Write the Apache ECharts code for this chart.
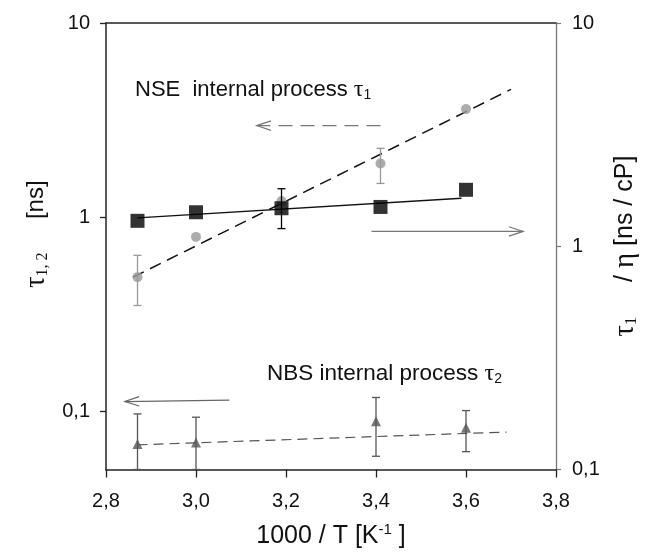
<!DOCTYPE html>
<html>
<head>
<meta charset="utf-8">
<script src="https://cdn.jsdelivr.net/npm/echarts@6/dist/echarts.min.js"></script>
<style>html,body{margin:0;padding:0;background:#fff}#c{width:648px;height:554px}</style>
</head>
<body>
<div id="c"></div>
<script>
// ---- data ----
const xTicks = [2.8, 3.0, 3.2, 3.4, 3.6, 3.8];
const yLeftTicks = [0.1, 1, 10];
const yRightTicks = [0.1, 1, 10];

// NSE tau1 (grey circles, left axis)
const tau1X = [2.87, 3.0, 3.19, 3.41, 3.6];
const tau1Y = [0.49, 0.79, 1.21, 1.89, 3.6];
const tau1ErrX = [2.87, 3.41];
const tau1ErrLo = [0.35, 1.49];
const tau1ErrHi = [0.635, 2.26];
const tau1FitX = [2.86, 3.7];
const tau1FitY = [0.49, 4.55];

// tau1/eta (black squares, right axis)
const etaX = [2.87, 3.0, 3.19, 3.41, 3.6];
const etaY = [1.30, 1.42, 1.48, 1.50, 1.79];
const etaErrX = [3.19];
const etaErrLo = [1.20];
const etaErrHi = [1.81];
const etaFitX = [2.87, 3.59];
const etaFitY = [1.34, 1.64];

// NBS tau2 (dark grey triangles, left axis)
const tau2X = [2.87, 3.0, 3.4, 3.6];
const tau2Y = [0.0676, 0.0689, 0.0887, 0.082];
const tau2ErrLo = [0.05, 0.05, 0.0585, 0.0618];
const tau2ErrHi = [0.0967, 0.093, 0.1175, 0.1006];
const tau2FitX = [2.87, 3.69];
const tau2FitY = [0.067, 0.078];

// arrows [xTail, yTail, xHead, yHead]
const arrowNSE = [3.41, 2.96, 3.135, 2.96];     // left axis, dashed
const arrowEta = [3.39, 1.165, 3.727, 1.165];   // right axis
const arrowNBS = [3.074, 0.114, 2.842, 0.112];  // left axis

// ---- helpers ----
const FONT = "'Liberation Sans', Arial, sans-serif";
const SERIF = "'Liberation Serif', 'Times New Roman', serif";
const fmt = v => String(v).replace('.', ',');
const zip = (a, b) => a.map((v, i) => [v, b[i]]);
const zip3 = (a, b, c) => a.map((v, i) => [v, b[i], c[i]]);

function errRender(color, cap) {
  return function (params, api) {
    const x = api.value(0);
    const lo = api.coord([x, api.value(1)]);
    const hi = api.coord([x, api.value(2)]);
    const st = { stroke: color, lineWidth: 1.3 };
    return {
      type: 'group',
      children: [
        { type: 'line', shape: { x1: lo[0], y1: lo[1], x2: hi[0], y2: hi[1] }, style: st },
        { type: 'line', shape: { x1: hi[0] - cap, y1: hi[1], x2: hi[0] + cap, y2: hi[1] }, style: st },
        { type: 'line', shape: { x1: lo[0] - cap, y1: lo[1], x2: lo[0] + cap, y2: lo[1] }, style: st }
      ]
    };
  };
}

function arrowRender(color, dash) {
  return function (params, api) {
    const p1 = api.coord([api.value(0), api.value(1)]);
    const p2 = api.coord([api.value(2), api.value(3)]);
    const ang = Math.atan2(p2[1] - p1[1], p2[0] - p1[0]);
    const L = 15, a = 0.32;
    const h1 = [p2[0] - L * Math.cos(ang - a), p2[1] - L * Math.sin(ang - a)];
    const h2 = [p2[0] - L * Math.cos(ang + a), p2[1] - L * Math.sin(ang + a)];
    return {
      type: 'group',
      children: [
        { type: 'line', shape: { x1: p1[0], y1: p1[1], x2: p2[0], y2: p2[1] },
          style: { stroke: color, lineWidth: 1.2, lineDash: dash || null } },
        { type: 'polyline', shape: { points: [h1, p2, h2] },
          style: { stroke: color, lineWidth: 1.2, fill: null } }
      ]
    };
  };
}

const chart = echarts.init(document.getElementById('c'), null, { renderer: 'canvas' });
const axisLbl = { color: '#111', fontSize: 20, fontFamily: FONT };

chart.setOption({
  animation: false,
  backgroundColor: '#fff',
  grid: { left: 106, right: 92, top: 23, bottom: 77 },
  xAxis: [{
    type: 'value', min: 2.8, max: 3.8, interval: 0.2,
    axisLine: { show: true, lineStyle: { color: '#222', width: 1.5 } },
    axisTick: { show: true, length: 8, lineStyle: { color: '#222', width: 1.3 } },
    axisLabel: Object.assign({ margin: 22, formatter: v => fmt(v.toFixed(1)) }, axisLbl),
    splitLine: { show: false },
    name: '1000 / T [K{sup|-1} ]',
    nameLocation: 'middle', nameGap: 53,
    nameTextStyle: { color: '#111', fontSize: 25, fontFamily: FONT,
      rich: { sup: { fontSize: 15, fontFamily: FONT, color: '#111', padding: [0, 0, 13, 0] } } }
  }, {
    type: 'value', min: 2.8, max: 3.8, position: 'top',
    axisLine: { show: true, lineStyle: { color: '#222', width: 1.5 } },
    axisTick: { show: false }, axisLabel: { show: false }, splitLine: { show: false }
  }],
  yAxis: [{
    type: 'log', logBase: 10, min: 0.05, max: 10, position: 'left',
    axisLine: { show: true, lineStyle: { color: '#222', width: 1.5 } },
    axisTick: { show: true, length: 6, customValues: yLeftTicks, lineStyle: { color: '#222', width: 1.3 } },
    axisLabel: Object.assign({ margin: 16, customValues: yLeftTicks, formatter: v => fmt(v) }, axisLbl),
    splitLine: { show: false },
    name: '{t|τ}{s|1, 2}     [ns]',
    nameLocation: 'middle', nameGap: 54, nameRotate: 90,
    nameTextStyle: { color: '#111', fontSize: 24, fontFamily: FONT, padding: [0, 0, 0, 24],
      rich: {
        t: { fontSize: 29, fontFamily: SERIF, color: '#111' },
        s: { fontSize: 16, fontFamily: SERIF, color: '#111', padding: [12, 0, 0, 0] }
      } }
  }, {
    type: 'log', logBase: 10, min: 0.1, max: 10, position: 'right',
    axisLine: { show: true, lineStyle: { color: '#777', width: 1.3 } },
    axisTick: { show: true, length: 5, customValues: yRightTicks, lineStyle: { color: '#777', width: 1.2 } },
    axisLabel: Object.assign({ margin: 16, customValues: yRightTicks, formatter: v => fmt(v) }, axisLbl),
    splitLine: { show: false },
    name: '{t|τ}{s|1}     / {t|η} [ns / cP]',
    nameLocation: 'middle', nameGap: 46, nameRotate: 90,
    nameTextStyle: { color: '#111', fontSize: 25, fontFamily: FONT,
      rich: {
        t: { fontSize: 29, fontFamily: SERIF, color: '#111' },
        s: { fontSize: 17, fontFamily: SERIF, color: '#111', padding: [12, 0, 0, 0] }
      } }
  }],
  graphic: [
    { type: 'text', left: 135, top: 78, z: 50,
      style: { text: 'NSE  internal process {t|τ}{s|1}', fill: '#111', fontSize: 22, fontFamily: FONT,
        rich: { t: { fontSize: 24, fontFamily: SERIF, fill: '#111' },
                s: { fontSize: 14, fontFamily: FONT, fill: '#111', padding: [10, 0, 0, 0] } } } },
    { type: 'text', left: 267, top: 362, z: 50,
      style: { text: 'NBS internal process {t|τ}{s|2}', fill: '#111', fontSize: 22.5, fontFamily: FONT,
        rich: { t: { fontSize: 24, fontFamily: SERIF, fill: '#111' },
                s: { fontSize: 14, fontFamily: FONT, fill: '#111', padding: [10, 0, 0, 0] } } } }
  ],
  series: [
    { name: 'tau1 fit', type: 'line', yAxisIndex: 0, data: zip(tau1FitX, tau1FitY),
      symbol: 'none', lineStyle: { color: '#111', width: 1.5, type: [12, 7] }, z: 2 },
    { name: 'tau2 fit', type: 'line', yAxisIndex: 0, data: zip(tau2FitX, tau2FitY),
      symbol: 'none', lineStyle: { color: '#555', width: 1.2, type: [10, 6] }, z: 2 },
    { name: 'eta fit', type: 'line', yAxisIndex: 1, data: zip(etaFitX, etaFitY),
      symbol: 'none', lineStyle: { color: '#111', width: 1.5 }, z: 3 },
    { name: 'tau1 err', type: 'custom', yAxisIndex: 0, data: zip3(tau1ErrX, tau1ErrLo, tau1ErrHi),
      renderItem: errRender('#999', 4), z: 3 },
    { name: 'tau2 err', type: 'custom', yAxisIndex: 0, data: zip3(tau2X, tau2ErrLo, tau2ErrHi),
      renderItem: errRender('#555', 4), z: 3 },
    { name: 'tau1', type: 'scatter', yAxisIndex: 0, data: zip(tau1X, tau1Y),
      symbol: 'circle', symbolSize: 10, itemStyle: { color: '#999' }, z: 4 },
    { name: 'tau2', type: 'scatter', yAxisIndex: 0, data: zip(tau2X, tau2Y),
      symbol: 'triangle', symbolSize: 10, itemStyle: { color: '#555' }, z: 4 },
    { name: 'eta', type: 'scatter', yAxisIndex: 1, data: zip(etaX, etaY),
      symbol: 'rect', symbolSize: 14, itemStyle: { color: '#000' }, z: 5 },
    { name: 'eta err', type: 'custom', yAxisIndex: 1, data: zip3(etaErrX, etaErrLo, etaErrHi),
      renderItem: errRender('#000', 4), z: 6 },
    { name: 'arrow NSE', type: 'custom', yAxisIndex: 0, data: [arrowNSE],
      renderItem: arrowRender('#777', [14, 8]), z: 6 },
    { name: 'arrow eta', type: 'custom', yAxisIndex: 1, data: [arrowEta],
      renderItem: arrowRender('#777'), z: 6 },
    { name: 'arrow NBS', type: 'custom', yAxisIndex: 0, data: [arrowNBS],
      renderItem: arrowRender('#666'), z: 6 }
  ]
});
</script>
</body>
</html>
